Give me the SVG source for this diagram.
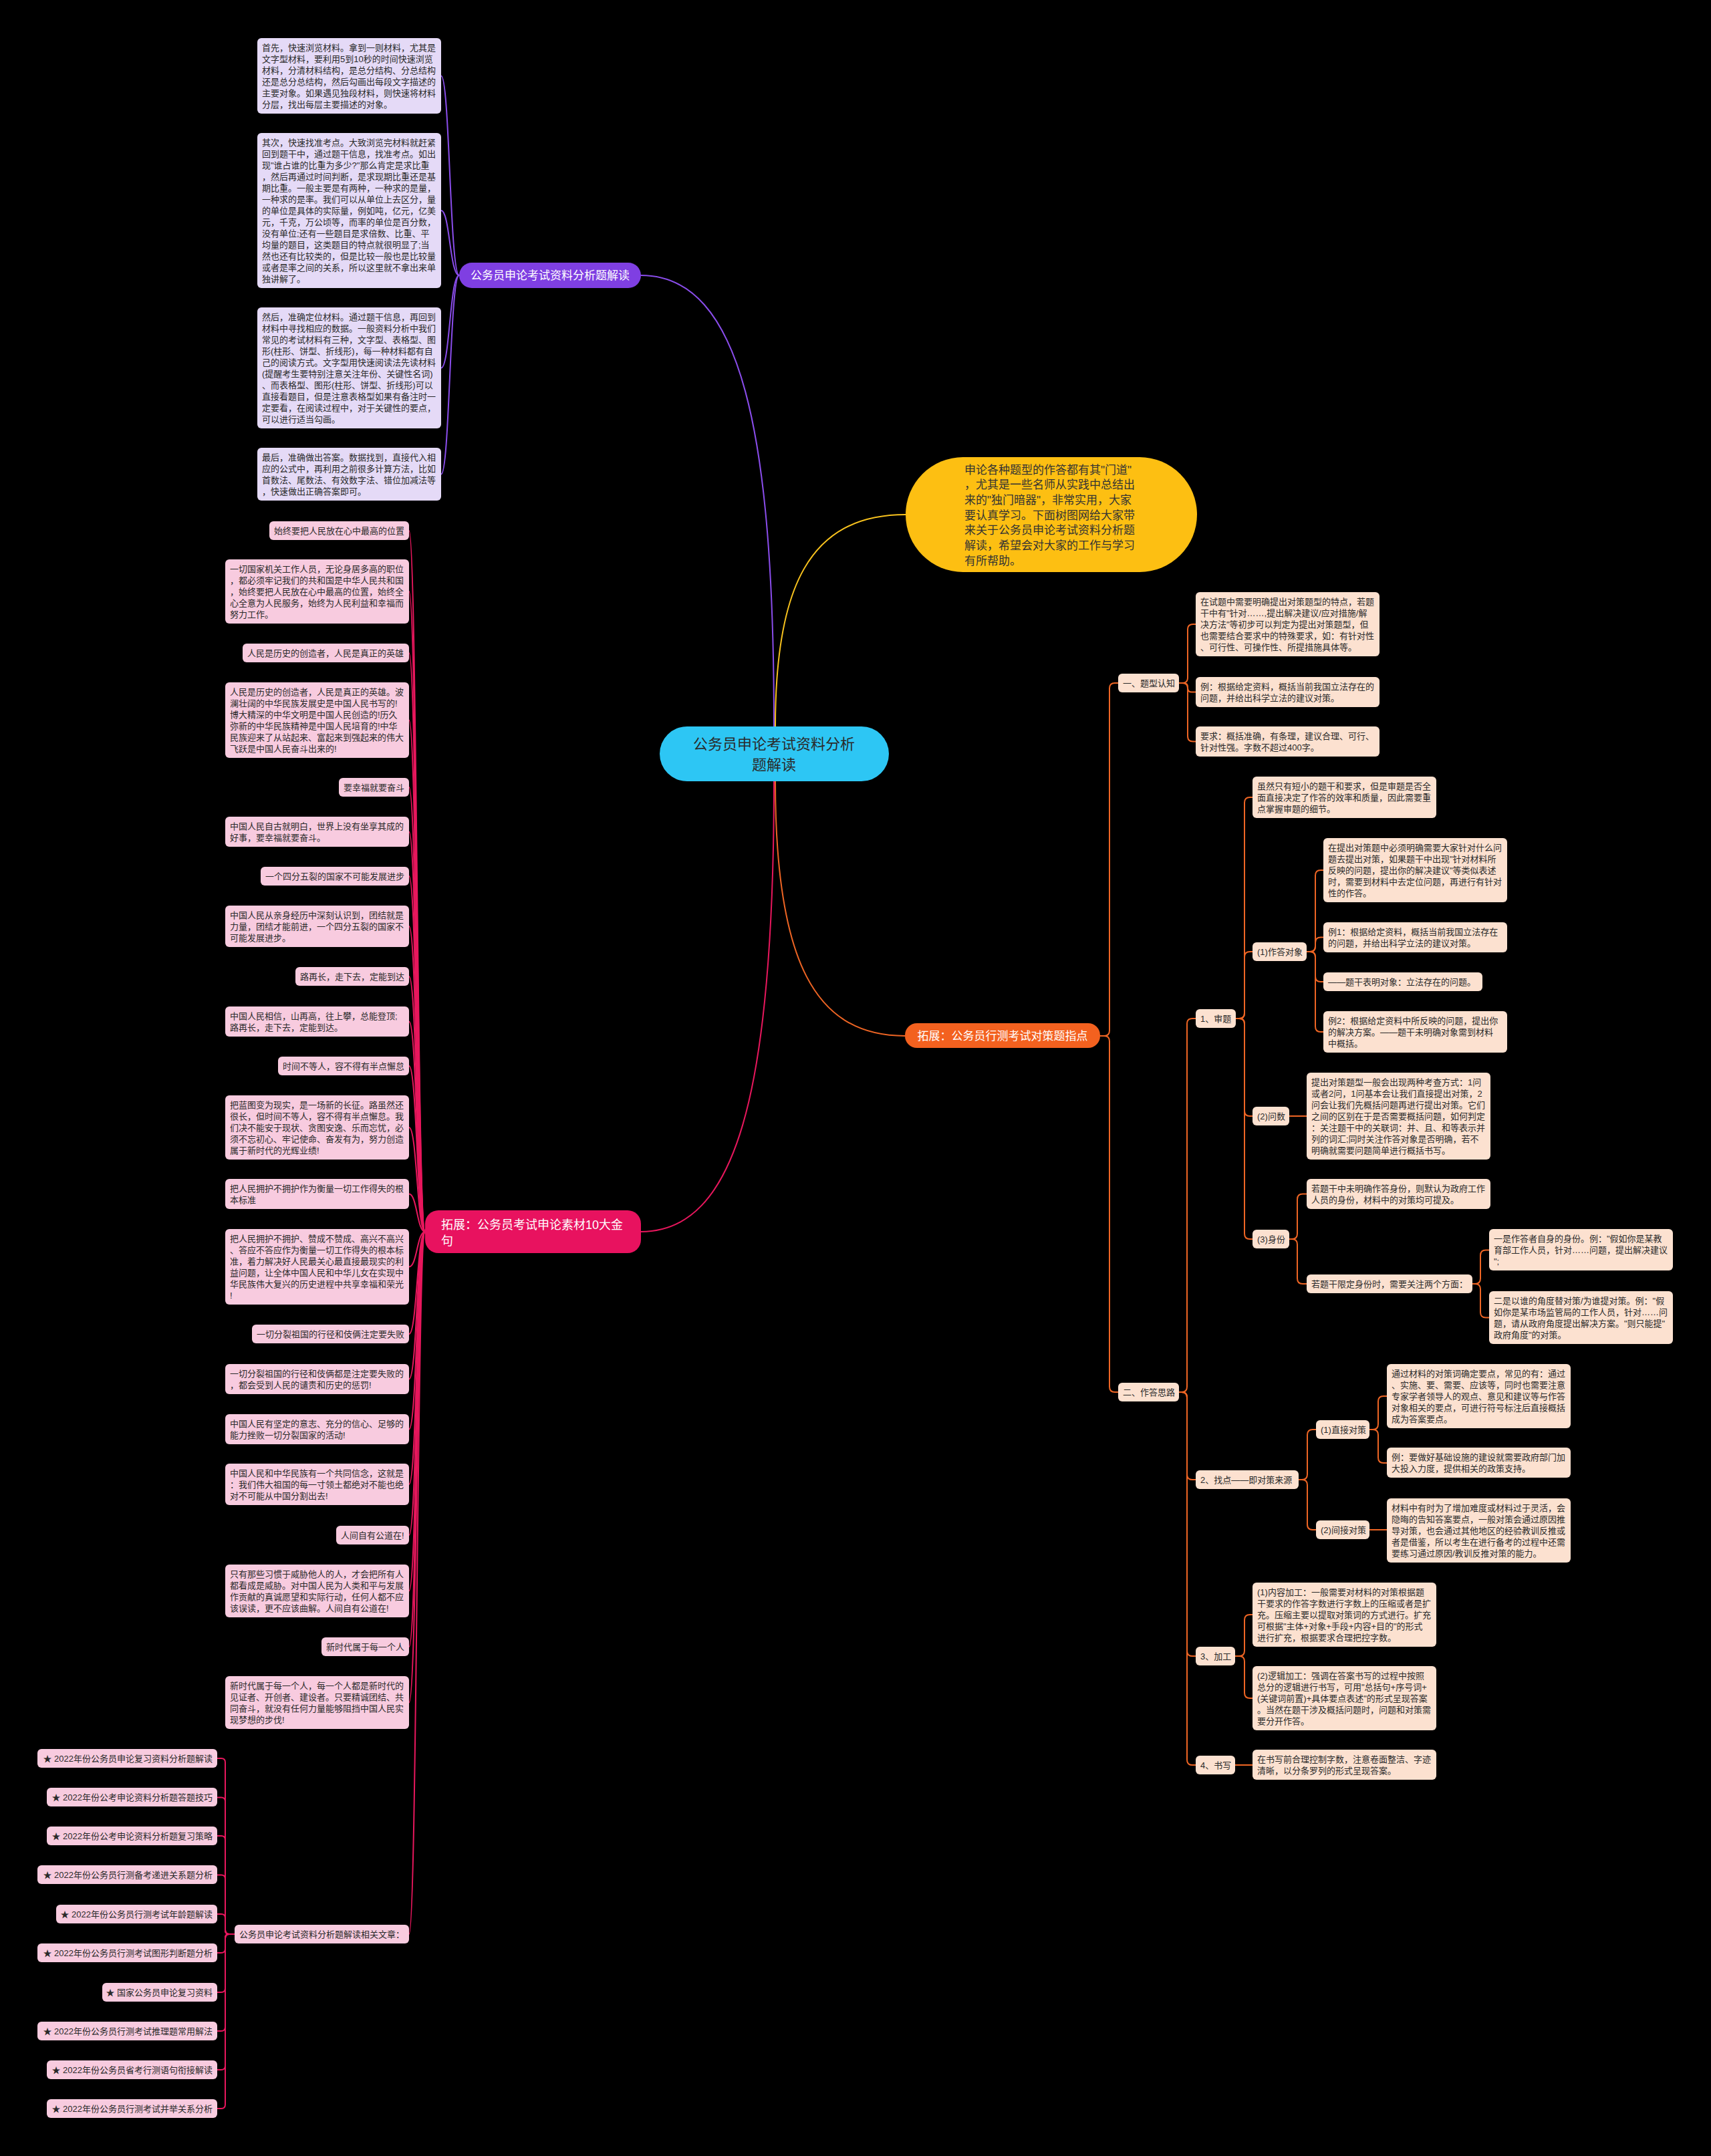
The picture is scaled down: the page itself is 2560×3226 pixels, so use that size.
<svg xmlns="http://www.w3.org/2000/svg" width="2560" height="3226" viewBox="0 0 2560 3226">
<style>
text{font-family:"Liberation Sans","Noto Sans CJK SC",sans-serif}
.t{font-size:13px;fill:#2a2a2a}
.pu{fill:#E5DAF7}
.pk{fill:#F8CBDF}
.pe{fill:#FCE1D0}
.ln{fill:none;stroke-width:2;stroke-linecap:round}
.cpu{stroke:#8A4DEB}
.cpk{stroke:#E8175D}
.cor{stroke:#EE6524}
.cye{stroke:#F9C31E}
.w{fill:#fff}
</style>
<rect width="2560" height="3226" fill="#000"/>
<g id="connectors">
<path class="ln cpu" stroke-width="2.5" d="M 1158 1087 C 1158 650, 1110 412, 959 412"/>
<path class="ln cye" stroke-width="2.5" d="M 1160 1087 C 1160 880, 1210 770, 1355 770"/>
<path class="ln cor" stroke-width="2.5" d="M 1160 1169 C 1160 1440, 1220 1550, 1354 1550"/>
<path class="ln cpk" stroke-width="2.5" d="M 1158 1169 C 1158 1640, 1100 1843, 959 1843"/>
<path class="ln cpu" d="M 687 412 C 673 412, 673 113.5, 660 113.5"/>
<path class="ln cpu" d="M 687 412 C 673 412, 673 315, 660 315"/>
<path class="ln cpu" d="M 687 412 C 673 412, 673 550.5, 660 550.5"/>
<path class="ln cpu" d="M 687 412 C 673 412, 673 709.5, 660 709.5"/>
<path class="ln cpk" d="M 636 1843 C 624 1843, 624 794, 612 794"/>
<path class="ln cpk" d="M 636 1843 C 624 1843, 624 885, 612 885"/>
<path class="ln cpk" d="M 636 1843 C 624 1843, 624 977, 612 977"/>
<path class="ln cpk" d="M 636 1843 C 624 1843, 624 1077.5, 612 1077.5"/>
<path class="ln cpk" d="M 636 1843 C 624 1843, 624 1178, 612 1178"/>
<path class="ln cpk" d="M 636 1843 C 624 1843, 624 1244.5, 612 1244.5"/>
<path class="ln cpk" d="M 636 1843 C 624 1843, 624 1311, 612 1311"/>
<path class="ln cpk" d="M 636 1843 C 624 1843, 624 1386, 612 1386"/>
<path class="ln cpk" d="M 636 1843 C 624 1843, 624 1461, 612 1461"/>
<path class="ln cpk" d="M 636 1843 C 624 1843, 624 1528.5, 612 1528.5"/>
<path class="ln cpk" d="M 636 1843 C 624 1843, 624 1595, 612 1595"/>
<path class="ln cpk" d="M 636 1843 C 624 1843, 624 1687, 612 1687"/>
<path class="ln cpk" d="M 636 1843 C 624 1843, 624 1786.5, 612 1786.5"/>
<path class="ln cpk" d="M 636 1843 C 624 1843, 624 1895.5, 612 1895.5"/>
<path class="ln cpk" d="M 636 1843 C 624 1843, 624 1996, 612 1996"/>
<path class="ln cpk" d="M 636 1843 C 624 1843, 624 2063.5, 612 2063.5"/>
<path class="ln cpk" d="M 636 1843 C 624 1843, 624 2138.5, 612 2138.5"/>
<path class="ln cpk" d="M 636 1843 C 624 1843, 624 2221, 612 2221"/>
<path class="ln cpk" d="M 636 1843 C 624 1843, 624 2297, 612 2297"/>
<path class="ln cpk" d="M 636 1843 C 624 1843, 624 2380.5, 612 2380.5"/>
<path class="ln cpk" d="M 636 1843 C 624 1843, 624 2464, 612 2464"/>
<path class="ln cpk" d="M 636 1843 C 624 1843, 624 2547.5, 612 2547.5"/>
<path class="ln cpk" d="M 636 1843 C 624 1843, 624 2894, 612 2894"/>
<path class="ln cpk" d="M 351 2894 H 343 Q 337 2894 337 2888 V 2637 Q 337 2631 331 2631 H 325"/>
<path class="ln cpk" d="M 351 2894 H 343 Q 337 2894 337 2888 V 2695.5 Q 337 2689.5 331 2689.5 H 325"/>
<path class="ln cpk" d="M 351 2894 H 343 Q 337 2894 337 2888 V 2753 Q 337 2747 331 2747 H 325"/>
<path class="ln cpk" d="M 351 2894 H 343 Q 337 2894 337 2888 V 2811.5 Q 337 2805.5 331 2805.5 H 325"/>
<path class="ln cpk" d="M 351 2894 H 343 Q 337 2894 337 2888 V 2870 Q 337 2864 331 2864 H 325"/>
<path class="ln cpk" d="M 351 2894 H 343 Q 337 2894 337 2900 V 2916 Q 337 2922 331 2922 H 325"/>
<path class="ln cpk" d="M 351 2894 H 343 Q 337 2894 337 2900 V 2975 Q 337 2981 331 2981 H 325"/>
<path class="ln cpk" d="M 351 2894 H 343 Q 337 2894 337 2900 V 3033 Q 337 3039 331 3039 H 325"/>
<path class="ln cpk" d="M 351 2894 H 343 Q 337 2894 337 2900 V 3091 Q 337 3097 331 3097 H 325"/>
<path class="ln cpk" d="M 351 2894 H 343 Q 337 2894 337 2900 V 3149 Q 337 3155 331 3155 H 325"/>
<path class="ln cor" d="M 1646 1550 H 1652 Q 1660 1550 1660 1542 V 1030 Q 1660 1022 1668 1022 H 1673"/>
<path class="ln cor" d="M 1646 1550 H 1652 Q 1660 1550 1660 1558 V 2075 Q 1660 2083 1668 2083 H 1673"/>
<path class="ln cor" d="M 1764 1022 H 1769 Q 1777 1022 1777 1014 V 942 Q 1777 934 1785 934 H 1789"/>
<path class="ln cor" d="M 1764 1022 H 1771 Q 1777 1022 1777 1028 V 1029.5 Q 1777 1035.5 1783 1035.5 H 1789"/>
<path class="ln cor" d="M 1764 1022 H 1769 Q 1777 1022 1777 1030 V 1101.5 Q 1777 1109.5 1785 1109.5 H 1789"/>
<path class="ln cor" d="M 1764 2083 H 1768 Q 1776 2083 1776 2075 V 1532 Q 1776 1524 1784 1524 H 1789"/>
<path class="ln cor" d="M 1764 2083 H 1768 Q 1776 2083 1776 2091 V 2206 Q 1776 2214 1784 2214 H 1789"/>
<path class="ln cor" d="M 1764 2083 H 1768 Q 1776 2083 1776 2091 V 2470 Q 1776 2478 1784 2478 H 1789"/>
<path class="ln cor" d="M 1764 2083 H 1768 Q 1776 2083 1776 2091 V 2633 Q 1776 2641 1784 2641 H 1789"/>
<path class="ln cor" d="M 1849 1524 H 1854 Q 1862 1524 1862 1516 V 1201 Q 1862 1193 1870 1193 H 1874"/>
<path class="ln cor" d="M 1849 1524 H 1854 Q 1862 1524 1862 1516 V 1432 Q 1862 1424 1870 1424 H 1874"/>
<path class="ln cor" d="M 1849 1524 H 1854 Q 1862 1524 1862 1532 V 1662 Q 1862 1670 1870 1670 H 1874"/>
<path class="ln cor" d="M 1849 1524 H 1854 Q 1862 1524 1862 1532 V 1846 Q 1862 1854 1870 1854 H 1874"/>
<path class="ln cor" d="M 1955 1424 H 1960 Q 1968 1424 1968 1416 V 1310 Q 1968 1302 1976 1302 H 1980"/>
<path class="ln cor" d="M 1955 1424 H 1960 Q 1968 1424 1968 1416 V 1410.5 Q 1968 1402.5 1976 1402.5 H 1980"/>
<path class="ln cor" d="M 1955 1424 H 1960 Q 1968 1424 1968 1432 V 1461 Q 1968 1469 1976 1469 H 1980"/>
<path class="ln cor" d="M 1955 1424 H 1960 Q 1968 1424 1968 1432 V 1536 Q 1968 1544 1976 1544 H 1980"/>
<path class="ln cor" d="M 1929 1670 H 1955"/>
<path class="ln cor" d="M 1929 1854 H 1933 Q 1941 1854 1941 1846 V 1794.5 Q 1941 1786.5 1949 1786.5 H 1955"/>
<path class="ln cor" d="M 1929 1854 H 1933 Q 1941 1854 1941 1862 V 1913 Q 1941 1921 1949 1921 H 1955"/>
<path class="ln cor" d="M 2203 1921 H 2207 Q 2215 1921 2215 1913 V 1878.5 Q 2215 1870.5 2223 1870.5 H 2228"/>
<path class="ln cor" d="M 2203 1921 H 2207 Q 2215 1921 2215 1929 V 1963.5 Q 2215 1971.5 2223 1971.5 H 2228"/>
<path class="ln cor" d="M 1943 2214 H 1948 Q 1956 2214 1956 2206 V 2147 Q 1956 2139 1964 2139 H 1969"/>
<path class="ln cor" d="M 1943 2214 H 1948 Q 1956 2214 1956 2222 V 2281 Q 1956 2289 1964 2289 H 1969"/>
<path class="ln cor" d="M 2049 2139 H 2054 Q 2062 2139 2062 2131 V 2097 Q 2062 2089 2070 2089 H 2075"/>
<path class="ln cor" d="M 2049 2139 H 2054 Q 2062 2139 2062 2147 V 2181 Q 2062 2189 2070 2189 H 2075"/>
<path class="ln cor" d="M 2049 2289 H 2075"/>
<path class="ln cor" d="M 1848 2478 H 1854 Q 1862 2478 1862 2470 V 2424 Q 1862 2416 1870 2416 H 1874"/>
<path class="ln cor" d="M 1848 2478 H 1854 Q 1862 2478 1862 2486 V 2533 Q 1862 2541 1870 2541 H 1874"/>
<path class="ln cor" d="M 1848 2641 H 1874"/>
</g>
<g id="center"><rect x="987" y="1087" width="343" height="82" rx="41" fill="#2DC6F4"/><text x="1158" y="1121" font-size="22" fill="#2a2a2a" text-anchor="middle"><tspan x="1158" y="1121">公务员申论考试资料分析</tspan><tspan x="1158" y="1152">题解读</tspan></text></g>
<g id="intro"><rect x="1355" y="684" width="436" height="172" rx="86" fill="#FDBF12"/><text font-size="17" fill="#333"><tspan x="1443" y="708.5">申论各种题型的作答都有其"门道"</tspan><tspan x="1443" y="731.2">，尤其是一些名师从实践中总结出</tspan><tspan x="1443" y="753.9">来的"独门暗器"，非常实用，大家</tspan><tspan x="1443" y="776.6">要认真学习。下面树图网给大家带</tspan><tspan x="1443" y="799.3">来关于公务员申论考试资料分析题</tspan><tspan x="1443" y="822">解读，希望会对大家的工作与学习</tspan><tspan x="1443" y="844.7">有所帮助。</tspan></text></g>
<g id="b-purple"><rect x="687" y="393" width="272" height="38" rx="19" fill="#7F3FE2"/><text x="823" y="418" font-size="17" class="w" text-anchor="middle">公务员申论考试资料分析题解读</text></g>
<g id="b-orange"><rect x="1354" y="1531" width="292" height="37" rx="18" fill="#F3611F"/><text x="1500" y="1556" font-size="17" class="w" text-anchor="middle">拓展：公务员行测考试对策题指点</text></g>
<g id="b-pink"><rect x="636" y="1811" width="323" height="64" rx="20" fill="#E8125F"/><text font-size="18" class="w"><tspan x="660" y="1839">拓展：公务员考试申论素材10大金</tspan><tspan x="660" y="1863">句</tspan></text></g>
<g id="p1"><rect class="pu" x="385" y="57" width="275" height="113" rx="6"/><text class="t"><tspan x="392" y="76">首先，快速浏览材料。拿到一则材料，尤其是</tspan><tspan x="392" y="93">文字型材料，要利用5到10秒的时间快速浏览</tspan><tspan x="392" y="110">材料，分清材料结构，是总分结构、分总结构</tspan><tspan x="392" y="127">还是总分总结构，然后勾画出每段文字描述的</tspan><tspan x="392" y="144">主要对象。如果遇见独段材料，则快速将材料</tspan><tspan x="392" y="161">分层，找出每层主要描述的对象。</tspan></text></g>
<g id="p2"><rect class="pu" x="385" y="199" width="275" height="232" rx="6"/><text class="t"><tspan x="392" y="218">其次，快速找准考点。大致浏览完材料就赶紧</tspan><tspan x="392" y="235">回到题干中，通过题干信息，找准考点。如出</tspan><tspan x="392" y="252">现"谁占谁的比重为多少?"那么肯定是求比重</tspan><tspan x="392" y="269">，然后再通过时间判断，是求现期比重还是基</tspan><tspan x="392" y="286">期比重。一般主要是有两种，一种求的是量，</tspan><tspan x="392" y="303">一种求的是率。我们可以从单位上去区分，量</tspan><tspan x="392" y="320">的单位是具体的实际量，例如吨，亿元，亿美</tspan><tspan x="392" y="337">元，千克，万公顷等，而率的单位是百分数，</tspan><tspan x="392" y="354">没有单位;还有一些题目是求倍数、比重、平</tspan><tspan x="392" y="371">均量的题目，这类题目的特点就很明显了;当</tspan><tspan x="392" y="388">然也还有比较类的，但是比较一般也是比较量</tspan><tspan x="392" y="405">或者是率之间的关系，所以这里就不拿出来单</tspan><tspan x="392" y="422">独讲解了。</tspan></text></g>
<g id="p3"><rect class="pu" x="385" y="460" width="275" height="181" rx="6"/><text class="t"><tspan x="392" y="479">然后，准确定位材料。通过题干信息，再回到</tspan><tspan x="392" y="496">材料中寻找相应的数据。一般资料分析中我们</tspan><tspan x="392" y="513">常见的考试材料有三种，文字型、表格型、图</tspan><tspan x="392" y="530">形(柱形、饼型、折线形)，每一种材料都有自</tspan><tspan x="392" y="547">己的阅读方式。文字型用快速阅读法先读材料</tspan><tspan x="392" y="564">(提醒考生要特别注意关注年份、关键性名词)</tspan><tspan x="392" y="581">、而表格型、图形(柱形、饼型、折线形)可以</tspan><tspan x="392" y="598">直接看题目，但是注意表格型如果有备注时一</tspan><tspan x="392" y="615">定要看，在阅读过程中，对于关键性的要点，</tspan><tspan x="392" y="632">可以进行适当勾画。</tspan></text></g>
<g id="p4"><rect class="pu" x="385" y="670" width="275" height="79" rx="6"/><text class="t"><tspan x="392" y="689">最后，准确做出答案。数据找到，直接代入相</tspan><tspan x="392" y="706">应的公式中，再利用之前很多计算方法，比如</tspan><tspan x="392" y="723">首数法、尾数法、有效数字法、错位加减法等</tspan><tspan x="392" y="740">，快速做出正确答案即可。</tspan></text></g>
<g id="k1"><rect class="pk" x="403" y="780" width="209" height="28" rx="6"/><text class="t" x="410" y="799">始终要把人民放在心中最高的位置</text></g>
<g id="k2"><rect class="pk" x="337" y="837" width="275" height="96" rx="6"/><text class="t"><tspan x="344" y="856">一切国家机关工作人员，无论身居多高的职位</tspan><tspan x="344" y="873">，都必须牢记我们的共和国是中华人民共和国</tspan><tspan x="344" y="890">，始终要把人民放在心中最高的位置，始终全</tspan><tspan x="344" y="907">心全意为人民服务，始终为人民利益和幸福而</tspan><tspan x="344" y="924">努力工作。</tspan></text></g>
<g id="k3"><rect class="pk" x="363" y="963" width="249" height="28" rx="6"/><text class="t" x="370" y="982">人民是历史的创造者，人民是真正的英雄</text></g>
<g id="k4"><rect class="pk" x="337" y="1021" width="275" height="113" rx="6"/><text class="t"><tspan x="344" y="1040">人民是历史的创造者，人民是真正的英雄。波</tspan><tspan x="344" y="1057">澜壮阔的中华民族发展史是中国人民书写的!</tspan><tspan x="344" y="1074">博大精深的中华文明是中国人民创造的!历久</tspan><tspan x="344" y="1091">弥新的中华民族精神是中国人民培育的!中华</tspan><tspan x="344" y="1108">民族迎来了从站起来、富起来到强起来的伟大</tspan><tspan x="344" y="1125">飞跃是中国人民奋斗出来的!</tspan></text></g>
<g id="k5"><rect class="pk" x="507" y="1164" width="105" height="28" rx="6"/><text class="t" x="514" y="1183">要幸福就要奋斗</text></g>
<g id="k6"><rect class="pk" x="337" y="1222" width="275" height="45" rx="6"/><text class="t"><tspan x="344" y="1241">中国人民自古就明白，世界上没有坐享其成的</tspan><tspan x="344" y="1258">好事，要幸福就要奋斗。</tspan></text></g>
<g id="k7"><rect class="pk" x="390" y="1297" width="222" height="28" rx="6"/><text class="t" x="397" y="1316">一个四分五裂的国家不可能发展进步</text></g>
<g id="k8"><rect class="pk" x="337" y="1355" width="275" height="62" rx="6"/><text class="t"><tspan x="344" y="1374">中国人民从亲身经历中深刻认识到，团结就是</tspan><tspan x="344" y="1391">力量，团结才能前进，一个四分五裂的国家不</tspan><tspan x="344" y="1408">可能发展进步。</tspan></text></g>
<g id="k9"><rect class="pk" x="442" y="1447" width="170" height="28" rx="6"/><text class="t" x="449" y="1466">路再长，走下去，定能到达</text></g>
<g id="k10"><rect class="pk" x="337" y="1506" width="275" height="45" rx="6"/><text class="t"><tspan x="344" y="1525">中国人民相信，山再高，往上攀，总能登顶;</tspan><tspan x="344" y="1542">路再长，走下去，定能到达。</tspan></text></g>
<g id="k11"><rect class="pk" x="416" y="1581" width="196" height="28" rx="6"/><text class="t" x="423" y="1600">时间不等人，容不得有半点懈怠</text></g>
<g id="k12"><rect class="pk" x="337" y="1639" width="275" height="96" rx="6"/><text class="t"><tspan x="344" y="1658">把蓝图变为现实，是一场新的长征。路虽然还</tspan><tspan x="344" y="1675">很长，但时间不等人，容不得有半点懈怠。我</tspan><tspan x="344" y="1692">们决不能安于现状、贪图安逸、乐而忘忧，必</tspan><tspan x="344" y="1709">须不忘初心、牢记使命、奋发有为，努力创造</tspan><tspan x="344" y="1726">属于新时代的光辉业绩!</tspan></text></g>
<g id="k13"><rect class="pk" x="337" y="1764" width="275" height="45" rx="6"/><text class="t"><tspan x="344" y="1783">把人民拥护不拥护作为衡量一切工作得失的根</tspan><tspan x="344" y="1800">本标准</tspan></text></g>
<g id="k14"><rect class="pk" x="337" y="1839" width="275" height="113" rx="6"/><text class="t"><tspan x="344" y="1858">把人民拥护不拥护、赞成不赞成、高兴不高兴</tspan><tspan x="344" y="1875">、答应不答应作为衡量一切工作得失的根本标</tspan><tspan x="344" y="1892">准，着力解决好人民最关心最直接最现实的利</tspan><tspan x="344" y="1909">益问题，让全体中国人民和中华儿女在实现中</tspan><tspan x="344" y="1926">华民族伟大复兴的历史进程中共享幸福和荣光</tspan><tspan x="344" y="1943">!</tspan></text></g>
<g id="k15"><rect class="pk" x="377" y="1982" width="235" height="28" rx="6"/><text class="t" x="384" y="2001">一切分裂祖国的行径和伎俩注定要失败</text></g>
<g id="k16"><rect class="pk" x="337" y="2041" width="275" height="45" rx="6"/><text class="t"><tspan x="344" y="2060">一切分裂祖国的行径和伎俩都是注定要失败的</tspan><tspan x="344" y="2077">，都会受到人民的谴责和历史的惩罚!</tspan></text></g>
<g id="k17"><rect class="pk" x="337" y="2116" width="275" height="45" rx="6"/><text class="t"><tspan x="344" y="2135">中国人民有坚定的意志、充分的信心、足够的</tspan><tspan x="344" y="2152">能力挫败一切分裂国家的活动!</tspan></text></g>
<g id="k18"><rect class="pk" x="337" y="2190" width="275" height="62" rx="6"/><text class="t"><tspan x="344" y="2209">中国人民和中华民族有一个共同信念，这就是</tspan><tspan x="344" y="2226">：我们伟大祖国的每一寸领土都绝对不能也绝</tspan><tspan x="344" y="2243">对不可能从中国分割出去!</tspan></text></g>
<g id="k19"><rect class="pk" x="503" y="2283" width="109" height="28" rx="6"/><text class="t" x="510" y="2302">人间自有公道在!</text></g>
<g id="k20"><rect class="pk" x="337" y="2341" width="275" height="79" rx="6"/><text class="t"><tspan x="344" y="2360">只有那些习惯于威胁他人的人，才会把所有人</tspan><tspan x="344" y="2377">都看成是威胁。对中国人民为人类和平与发展</tspan><tspan x="344" y="2394">作贡献的真诚愿望和实际行动，任何人都不应</tspan><tspan x="344" y="2411">该误读，更不应该曲解。人间自有公道在!</tspan></text></g>
<g id="k21"><rect class="pk" x="481" y="2450" width="131" height="28" rx="6"/><text class="t" x="488" y="2469">新时代属于每一个人</text></g>
<g id="k22"><rect class="pk" x="337" y="2508" width="275" height="79" rx="6"/><text class="t"><tspan x="344" y="2527">新时代属于每一个人，每一个人都是新时代的</tspan><tspan x="344" y="2544">见证者、开创者、建设者。只要精诚团结、共</tspan><tspan x="344" y="2561">同奋斗，就没有任何力量能够阻挡中国人民实</tspan><tspan x="344" y="2578">现梦想的步伐!</tspan></text></g>
<g id="related"><rect class="pk" x="351" y="2880" width="261" height="28" rx="6"/><text class="t" x="358" y="2899">公务员申论考试资料分析题解读相关文章：</text></g>
<g id="l1"><rect class="pk" x="56" y="2617" width="269" height="28" rx="6"/><text class="t" x="318" y="2636" text-anchor="end">★ 2022年份公务员申论复习资料分析题解读</text></g>
<g id="l2"><rect class="pk" x="70" y="2675" width="255" height="28" rx="6"/><text class="t" x="318" y="2694" text-anchor="end">★ 2022年份公考申论资料分析题答题技巧</text></g>
<g id="l3"><rect class="pk" x="70" y="2733" width="255" height="28" rx="6"/><text class="t" x="318" y="2752" text-anchor="end">★ 2022年份公考申论资料分析题复习策略</text></g>
<g id="l4"><rect class="pk" x="56" y="2791" width="269" height="28" rx="6"/><text class="t" x="318" y="2810" text-anchor="end">★ 2022年份公务员行测备考递进关系题分析</text></g>
<g id="l5"><rect class="pk" x="84" y="2850" width="241" height="28" rx="6"/><text class="t" x="318" y="2869" text-anchor="end">★ 2022年份公务员行测考试年龄题解读</text></g>
<g id="l6"><rect class="pk" x="56" y="2908" width="269" height="28" rx="6"/><text class="t" x="318" y="2927" text-anchor="end">★ 2022年份公务员行测考试图形判断题分析</text></g>
<g id="l7"><rect class="pk" x="153" y="2967" width="172" height="28" rx="6"/><text class="t" x="318" y="2986" text-anchor="end">★ 国家公务员申论复习资料</text></g>
<g id="l8"><rect class="pk" x="56" y="3025" width="269" height="28" rx="6"/><text class="t" x="318" y="3044" text-anchor="end">★ 2022年份公务员行测考试推理题常用解法</text></g>
<g id="l9"><rect class="pk" x="70" y="3083" width="255" height="28" rx="6"/><text class="t" x="318" y="3102" text-anchor="end">★ 2022年份公务员省考行测语句衔接解读</text></g>
<g id="l10"><rect class="pk" x="70" y="3141" width="255" height="28" rx="6"/><text class="t" x="318" y="3160" text-anchor="end">★ 2022年份公务员行测考试并举关系分析</text></g>
<g id="r1"><rect class="pe" x="1673" y="1008" width="91" height="28" rx="6"/><text class="t" x="1680" y="1027">一、题型认知</text></g>
<g id="r1n1"><rect class="pe" x="1789" y="886" width="275" height="96" rx="6"/><text class="t"><tspan x="1796" y="905">在试题中需要明确提出对策题型的特点，若题</tspan><tspan x="1796" y="922">干中有"针对……,提出解决建议/应对措施/解</tspan><tspan x="1796" y="939">决方法"等初步可以判定为提出对策题型，但</tspan><tspan x="1796" y="956">也需要结合要求中的特殊要求，如：有针对性</tspan><tspan x="1796" y="973">、可行性、可操作性、所提措施具体等。</tspan></text></g>
<g id="r1n2"><rect class="pe" x="1789" y="1013" width="275" height="45" rx="6"/><text class="t"><tspan x="1796" y="1032">例：根据给定资料，概括当前我国立法存在的</tspan><tspan x="1796" y="1049">问题，并给出科学立法的建议对策。</tspan></text></g>
<g id="r1n3"><rect class="pe" x="1789" y="1087" width="275" height="45" rx="6"/><text class="t"><tspan x="1796" y="1106">要求：概括准确，有条理，建议合理、可行、</tspan><tspan x="1796" y="1123">针对性强。字数不超过400字。</tspan></text></g>
<g id="r2"><rect class="pe" x="1673" y="2069" width="91" height="28" rx="6"/><text class="t" x="1680" y="2088">二、作答思路</text></g>
<g id="s1"><rect class="pe" x="1789" y="1510" width="60" height="28" rx="6"/><text class="t" x="1796" y="1529">1、审题</text></g>
<g id="s1n0"><rect class="pe" x="1874" y="1162" width="275" height="62" rx="6"/><text class="t"><tspan x="1881" y="1181">虽然只有短小的题干和要求，但是审题是否全</tspan><tspan x="1881" y="1198">面直接决定了作答的效率和质量，因此需要重</tspan><tspan x="1881" y="1215">点掌握审题的细节。</tspan></text></g>
<g id="s1a"><rect class="pe" x="1874" y="1410" width="81" height="28" rx="6"/><text class="t" x="1881" y="1429">(1)作答对象</text></g>
<g id="s1a1"><rect class="pe" x="1980" y="1254" width="275" height="96" rx="6"/><text class="t"><tspan x="1987" y="1273">在提出对策题中必须明确需要大家针对什么问</tspan><tspan x="1987" y="1290">题去提出对策，如果题干中出现"针对材料所</tspan><tspan x="1987" y="1307">反映的问题，提出你的解决建议"等类似表述</tspan><tspan x="1987" y="1324">时，需要到材料中去定位问题，再进行有针对</tspan><tspan x="1987" y="1341">性的作答。</tspan></text></g>
<g id="s1a2"><rect class="pe" x="1980" y="1380" width="275" height="45" rx="6"/><text class="t"><tspan x="1987" y="1399">例1：根据给定资料，概括当前我国立法存在</tspan><tspan x="1987" y="1416">的问题，并给出科学立法的建议对策。</tspan></text></g>
<g id="s1a3"><rect class="pe" x="1980" y="1455" width="238" height="28" rx="6"/><text class="t" x="1987" y="1474">——题干表明对象：立法存在的问题。</text></g>
<g id="s1a4"><rect class="pe" x="1980" y="1513" width="275" height="62" rx="6"/><text class="t"><tspan x="1987" y="1532">例2：根据给定资料中所反映的问题，提出你</tspan><tspan x="1987" y="1549">的解决方案。——题干未明确对象需到材料</tspan><tspan x="1987" y="1566">中概括。</tspan></text></g>
<g id="s1b"><rect class="pe" x="1874" y="1656" width="55" height="28" rx="6"/><text class="t" x="1881" y="1675">(2)问数</text></g>
<g id="s1b1"><rect class="pe" x="1955" y="1605" width="275" height="130" rx="6"/><text class="t"><tspan x="1962" y="1624">提出对策题型一般会出现两种考查方式：1问</tspan><tspan x="1962" y="1641">或者2问，1问基本会让我们直接提出对策，2</tspan><tspan x="1962" y="1658">问会让我们先概括问题再进行提出对策。它们</tspan><tspan x="1962" y="1675">之间的区别在于是否需要概括问题，如何判定</tspan><tspan x="1962" y="1692">：关注题干中的关联词：并、且、和等表示并</tspan><tspan x="1962" y="1709">列的词汇;同时关注作答对象是否明确，若不</tspan><tspan x="1962" y="1726">明确就需要问题简单进行概括书写。</tspan></text></g>
<g id="s1c"><rect class="pe" x="1874" y="1840" width="55" height="28" rx="6"/><text class="t" x="1881" y="1859">(3)身份</text></g>
<g id="s1c1"><rect class="pe" x="1955" y="1764" width="275" height="45" rx="6"/><text class="t"><tspan x="1962" y="1783">若题干中未明确作答身份，则默认为政府工作</tspan><tspan x="1962" y="1800">人员的身份，材料中的对策均可提及。</tspan></text></g>
<g id="s1c2"><rect class="pe" x="1955" y="1907" width="248" height="28" rx="6"/><text class="t" x="1962" y="1926">若题干限定身份时，需要关注两个方面：</text></g>
<g id="s1c2a"><rect class="pe" x="2228" y="1839" width="275" height="62" rx="6"/><text class="t"><tspan x="2235" y="1858">一是作答者自身的身份。例："假如你是某教</tspan><tspan x="2235" y="1875">育部工作人员，针对……问题，提出解决建议</tspan><tspan x="2235" y="1892">";</tspan></text></g>
<g id="s1c2b"><rect class="pe" x="2228" y="1932" width="275" height="79" rx="6"/><text class="t"><tspan x="2235" y="1951">二是以谁的角度替对策/为谁提对策。例："假</tspan><tspan x="2235" y="1968">如你是某市场监管局的工作人员，针对……问</tspan><tspan x="2235" y="1985">题，请从政府角度提出解决方案。"则只能提"</tspan><tspan x="2235" y="2002">政府角度"的对策。</tspan></text></g>
<g id="s2"><rect class="pe" x="1789" y="2200" width="154" height="28" rx="6"/><text class="t" x="1796" y="2219">2、找点——即对策来源</text></g>
<g id="s2a"><rect class="pe" x="1969" y="2125" width="80" height="28" rx="6"/><text class="t" x="1976" y="2144">(1)直接对策</text></g>
<g id="s2a1"><rect class="pe" x="2075" y="2041" width="275" height="96" rx="6"/><text class="t"><tspan x="2082" y="2060">通过材料的对策词确定要点，常见的有：通过</tspan><tspan x="2082" y="2077">、实施、要、需要、应该等，同时也需要注意</tspan><tspan x="2082" y="2094">专家学者领导人的观点、意见和建议等与作答</tspan><tspan x="2082" y="2111">对象相关的要点，可进行符号标注后直接概括</tspan><tspan x="2082" y="2128">成为答案要点。</tspan></text></g>
<g id="s2a2"><rect class="pe" x="2075" y="2166" width="275" height="45" rx="6"/><text class="t"><tspan x="2082" y="2185">例：要做好基础设施的建设就需要政府部门加</tspan><tspan x="2082" y="2202">大投入力度，提供相关的政策支持。</tspan></text></g>
<g id="s2b"><rect class="pe" x="1969" y="2275" width="80" height="28" rx="6"/><text class="t" x="1976" y="2294">(2)间接对策</text></g>
<g id="s2b1"><rect class="pe" x="2075" y="2242" width="275" height="96" rx="6"/><text class="t"><tspan x="2082" y="2261">材料中有时为了增加难度或材料过于灵活，会</tspan><tspan x="2082" y="2278">隐晦的告知答案要点，一般对策会通过原因推</tspan><tspan x="2082" y="2295">导对策，也会通过其他地区的经验教训反推或</tspan><tspan x="2082" y="2312">者是借鉴，所以考生在进行备考的过程中还需</tspan><tspan x="2082" y="2329">要练习通过原因/教训反推对策的能力。</tspan></text></g>
<g id="s3"><rect class="pe" x="1789" y="2464" width="59" height="28" rx="6"/><text class="t" x="1796" y="2483">3、加工</text></g>
<g id="s3a"><rect class="pe" x="1874" y="2368" width="275" height="96" rx="6"/><text class="t"><tspan x="1881" y="2387">(1)内容加工：一般需要对材料的对策根据题</tspan><tspan x="1881" y="2404">干要求的作答字数进行字数上的压缩或者是扩</tspan><tspan x="1881" y="2421">充。压缩主要以提取对策词的方式进行。扩充</tspan><tspan x="1881" y="2438">可根据"主体+对象+手段+内容+目的"的形式</tspan><tspan x="1881" y="2455">进行扩充，根据要求合理把控字数。</tspan></text></g>
<g id="s3b"><rect class="pe" x="1874" y="2493" width="275" height="96" rx="6"/><text class="t"><tspan x="1881" y="2512">(2)逻辑加工：强调在答案书写的过程中按照</tspan><tspan x="1881" y="2529">总分的逻辑进行书写，可用"总括句+序号词+</tspan><tspan x="1881" y="2546">(关键词前置)+具体要点表述"的形式呈现答案</tspan><tspan x="1881" y="2563">。当然在题干涉及概括问题时，问题和对策需</tspan><tspan x="1881" y="2580">要分开作答。</tspan></text></g>
<g id="s4"><rect class="pe" x="1789" y="2627" width="59" height="28" rx="6"/><text class="t" x="1796" y="2646">4、书写</text></g>
<g id="s4a"><rect class="pe" x="1874" y="2618" width="275" height="45" rx="6"/><text class="t"><tspan x="1881" y="2637">在书写前合理控制字数，注意卷面整洁、字迹</tspan><tspan x="1881" y="2654">清晰，以分条罗列的形式呈现答案。</tspan></text></g>
</svg>
